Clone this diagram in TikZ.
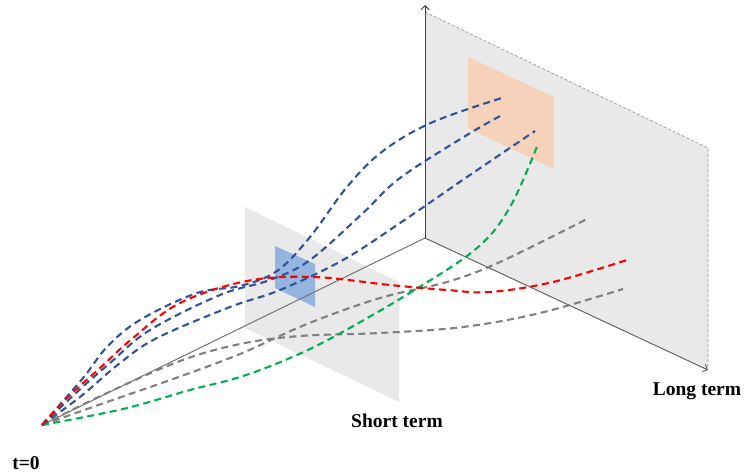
\documentclass[tikz,border=0pt]{standalone}
\usepackage{fontspec}
\setmainfont{Liberation Serif}
\usetikzlibrary{arrows.meta}
\definecolor{cblue}{RGB}{47,85,151}
\definecolor{cred}{RGB}{255,0,0}
\definecolor{cgreen}{RGB}{0,176,80}
\definecolor{cgray}{RGB}{128,128,128}
\definecolor{planegray}{RGB}{233,233,233}
\definecolor{rectblue}{RGB}{150,180,224}
\definecolor{rectorange}{RGB}{245,210,185}
\begin{document}
\begin{tikzpicture}[x=1pt,y=-1pt,
  traj/.style={line width=2.1pt, dash pattern=on 7pt off 4.5pt},
  axisline/.style={line width=1pt},
  lbl/.style={font=\fontsize{19.5}{22}\selectfont\bfseries, anchor=base, inner sep=0pt},
  tip/.style={-{Straight Barb[length=4pt,width=8pt]}}]
\useasboundingbox (0,0) rectangle (744,474);

\coordinate (O) at (42,425);
\coordinate (C) at (425,238);
\coordinate (Top) at (425,5);
\coordinate (LT) at (708,370);

% long-term plane
\fill[planegray] (425,12) -- (708,148) -- (708,370) -- (C) -- cycle;
\draw[cgray!80, line width=0.7pt, dash pattern=on 3pt off 2pt] (425,12) -- (708,148) -- (708,368);
\fill[rectorange] (468,57) -- (554,97) -- (554,169) -- (468,128) -- cycle;

% short-term plane
\fill[planegray] (245,207) -- (399,282) -- (399,402) -- (245,328) -- cycle;
\fill[rectblue] (275,246) -- (315,264) -- (315,307) -- (275,288) -- cycle;

% axes
\draw[axisline, black!75, tip] (C) -- (Top);
\draw[axisline, black!60, tip] (C) -- (LT);
\draw[axisline, black!55] (O) -- (C);

% trajectories
\draw[traj, cgray] plot[smooth, tension=0.6] coordinates {(O) (107,402) (173,379) (240,354) (307,324) (380,298) (447,282) (500,262) (587,219)};
\draw[traj, cgray] plot[smooth, tension=0.6] coordinates {(O) (107,393) (180,361) (240,344) (300,336) (380,333) (463,327) (540,313) (623,289)};
\draw[traj, cgreen] plot[smooth, tension=0.6] coordinates {(O) (123,409) (190,390) (240,377) (290,358) (337,335) (413,291) (477,248) (510,207) (538,144)};
\draw[traj, cblue] plot[smooth, tension=0.6] coordinates {(O) (80,397) (120,363) (157,338) (230,307) (280,290) (343,260) (403,221) (467,177) (535,131)};
\draw[traj, cblue] plot[smooth, tension=0.6] coordinates {(O) (77,392) (110,363) (150,330) (220,295) (270,280) (310,260) (363,213) (400,178) (467,135) (502,115)};
\draw[traj, cblue] plot[smooth, tension=0.6] coordinates {(O) (83,378) (107,347) (140,320) (197,293) (240,286) (277,271) (310,237) (347,187) (383,151) (433,122) (505,97)};
\draw[traj, cred] plot[smooth, tension=0.6] coordinates {(O) (67,398) (100,368) (133,338) (180,303) (247,281) (313,277) (390,285) (447,290) (490,292) (553,282) (627,260)};

% labels
\node[lbl] (t0) at (26,469) {t=0};
\node[lbl] (st) at (397,427) {Short term};
\node[lbl] (lt) at (697,395) {Long term};
\end{tikzpicture}
\end{document}
